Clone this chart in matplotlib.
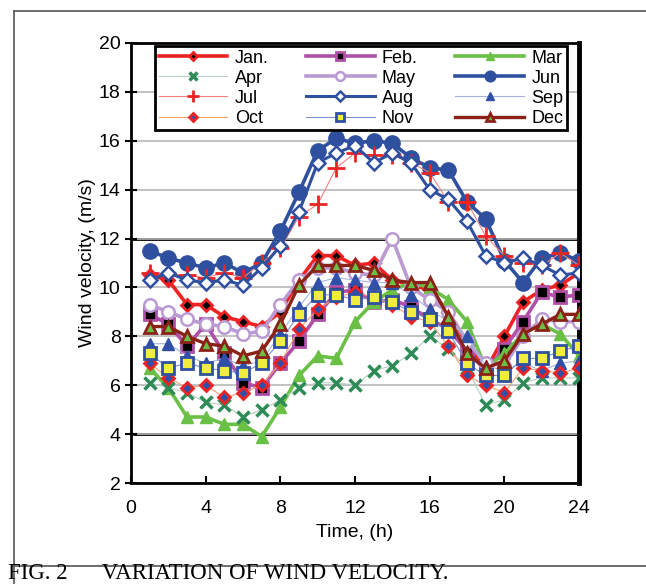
import numpy as np
import matplotlib
import matplotlib.pyplot as plt
from matplotlib.lines import Line2D

matplotlib.use('Agg')
plt.rcParams['font.family'] = ['Liberation Sans', 'DejaVu Sans']

hours = np.arange(1, 25)

jan = [10.5, 10.3, 9.3, 9.3, 8.8, 8.6, 8.4, 9.0, 10.3, 11.3, 11.3, 10.9,
       11.0, 10.3, 10.1, 9.9, 9.0, 7.7, 6.6, 8.0, 9.4, 9.9, 10.1, 10.6]
feb = [8.9, 8.5, 7.6, 8.5, 7.3, 6.1, 5.9, 6.9, 7.8, 8.9, 9.8, 9.9,
       9.4, 9.5, 9.2, 8.7, 8.3, 7.4, 6.6, 7.5, 8.6, 9.8, 9.6, 9.7]
mar = [6.7, 5.9, 4.7, 4.7, 4.4, 4.4, 3.9, 5.1, 6.4, 7.2, 7.1, 8.6,
       9.4, 9.9, 10.2, 10.0, 9.5, 8.6, 6.7, 7.3, 8.1, 8.5, 8.1, 7.2]
apr = [6.1, 5.9, 5.7, 5.3, 5.2, 4.7, 5.0, 5.4, 5.9, 6.1, 6.1, 6.0,
       6.6, 6.8, 7.3, 8.0, 7.5, 6.7, 5.2, 5.4, 6.1, 6.3, 6.3, 6.3]
may = [9.3, 9.0, 8.7, 8.5, 8.4, 8.1, 8.2, 9.3, 10.3, 10.8, 10.8, 10.6,
       10.5, 12.0, 10.0, 9.5, 9.0, 7.8, 6.9, 6.8, 8.0, 8.7, 8.6, 8.6]
jun = [11.5, 11.2, 11.0, 10.8, 11.0, 10.6, 11.0, 12.3, 13.9, 15.6, 16.1, 15.9,
       16.0, 15.9, 15.3, 14.9, 14.8, 13.5, 12.8, 11.1, 10.2, 11.2, 11.4, 11.1]
jul = [10.6, 10.5, 10.5, 10.4, 10.6, 10.4, 11.0, 11.6, 12.9, 13.4, 14.9, 15.5,
       15.4, 15.4, 15.1, 14.7, 13.5, 13.5, 12.1, 11.3, 11.0, 10.9, 11.4, 10.9]
aug = [10.3, 10.6, 10.3, 10.2, 10.3, 10.1, 10.8, 11.7, 13.1, 15.1, 15.5, 15.8,
       15.1, 15.5, 15.1, 14.0, 13.6, 12.7, 11.3, 11.0, 11.2, 10.9, 10.5, 10.6]
sep = [7.7, 7.7, 7.2, 6.9, 7.1, 6.8, 7.0, 8.1, 9.2, 10.2, 10.4, 10.3,
       10.2, 10.2, 9.7, 9.1, 8.6, 8.0, 6.8, 6.6, 6.9, 6.6, 6.9, 7.0]
oct_ = [6.9, 6.3, 5.9, 6.0, 5.5, 5.7, 6.0, 6.9, 8.3, 9.1, 9.6, 9.8,
        9.6, 9.3, 8.8, 8.6, 7.6, 6.4, 6.0, 5.7, 6.7, 6.6, 6.5, 6.7]
nov = [7.3, 6.7, 6.9, 6.7, 6.6, 6.5, 6.9, 7.8, 8.9, 9.7, 9.7, 9.5,
       9.6, 9.4, 9.0, 8.7, 8.2, 6.9, 6.4, 6.4, 7.1, 7.1, 7.4, 7.6]
dec = [8.4, 8.4, 8.0, 7.7, 7.6, 7.2, 7.4, 8.5, 10.1, 10.9, 10.9, 10.9,
       10.7, 10.3, 10.2, 10.2, 8.8, 7.3, 6.7, 7.0, 8.1, 8.5, 8.9, 8.9]

fig = plt.figure(figsize=(6.46, 5.84), dpi=100)
ax = fig.add_axes([0.2028, 0.1729, 0.6935, 0.7535])

blue = '#2f4f9f'
# month: (values, line color, lw, marker, size, face, edge, mew)
styles = {
    'Jan.': (jan, '#ee2222', 2.6, 'D', 6, 'black', '#ee2222', 2),
    'Feb.': (feb, '#b04fa8', 2.6, 's', 8, 'black', '#b04fa8', 2),
    'Mar': (mar, '#6abf45', 2.6, '^', 9, '#6abf45', '#6abf45', 1),
    'Apr': (apr, '#b8d0c0', 0.8, 'x', 9, '#2e8b57', '#2e8b57', 2.5),
    'May': (may, '#b99ad2', 2.6, 'o', 9, 'white', '#b99ad2', 1.8),
    'Jun': (jun, blue, 2.6, 'o', 11, blue, blue, 1),
    'Jul': (jul, '#f08080', 0.8, '+', 13, 'red', '#ee2222', 2),
    'Aug': (aug, blue, 2.2, 'D', 7, 'white', blue, 1.8),
    'Sep': (sep, '#a8b4dc', 0.8, '^', 9, '#3050a8', '#3050a8', 1),
    'Oct': (oct_, '#f4a070', 0.8, 'D', 6, '#3050a8', '#ee2222', 2),
    'Nov': (nov, '#8090d0', 0.8, 's', 9, '#f0ec40', '#3050a8', 2),
    'Dec': (dec, '#8b2218', 2.4, '^', 9, '#6abf45', '#8b2218', 2),
}

handles = {}
for name, (vals, lc, lw, mk, ms, mfc, mec, mew) in styles.items():
    h, = ax.plot(hours, vals, color=lc, lw=lw, marker=mk, ms=ms,
                 mfc=mfc, mec=mec, mew=mew, label=name, zorder=3)
    handles[name] = h

ax.set_xlim(0, 24)
ax.set_ylim(2, 20)
ax.set_xticks(range(0, 25, 4))
ax.set_yticks(range(2, 21, 2))
ax.tick_params(axis='both', labelsize=14, width=1.5, length=5)
ax.tick_params(axis='y', direction='inout', length=8)
ax.tick_params(axis='x', direction='in', pad=12)

ax.grid(axis='y', color='#b8b8b8', lw=1.2, zorder=0)
for yb in (4, 12):
    ax.axhline(yb, color='black', lw=2, zorder=1)

for s in ('left', 'bottom', 'top'):
    ax.spines[s].set_linewidth(2)
ax.spines['right'].set_linewidth(3.5)

ax.set_xlabel('Time, (h)', fontsize=14, labelpad=5)
ax.set_ylabel('Wind velocity, (m/s)', fontsize=14, labelpad=2)

order = ['Jan.', 'Apr', 'Jul', 'Oct', 'Feb.', 'May', 'Aug', 'Nov',
         'Mar', 'Jun', 'Sep', 'Dec']
leg = ax.legend([handles[k] for k in order], order, ncol=3, loc='upper left',
                bbox_to_anchor=(0.054, 0.807, 0.919, 0.186), mode='expand',
                fontsize=13, handlelength=3.8, markerscale=0.7,
                labelspacing=0.17, borderpad=0.2, handletextpad=0.4,
                fancybox=False, framealpha=1, borderaxespad=0)
leg.get_frame().set_edgecolor('black')
leg.get_frame().set_linewidth(2)
leg.set_zorder(5)

# outer frame and caption
fx = 14 / 646
fig.add_artist(Line2D([fx, 1], [1 - 11 / 584] * 2, color='#555555', lw=1.2))
fig.add_artist(Line2D([fx, fx], [0, 1 - 11 / 584], color='#555555', lw=1.2))
fig.add_artist(Line2D([fx, 1], [1 - 566 / 584] * 2, color='#555555', lw=1.2))
fig.text(0.013, 0.0, 'FIG. 2      VARIATION OF WIND VELOCITY.', fontsize=16.5,
         family=['Liberation Serif', 'DejaVu Serif'], va='bottom')

plt.savefig('out.png', dpi=100)
